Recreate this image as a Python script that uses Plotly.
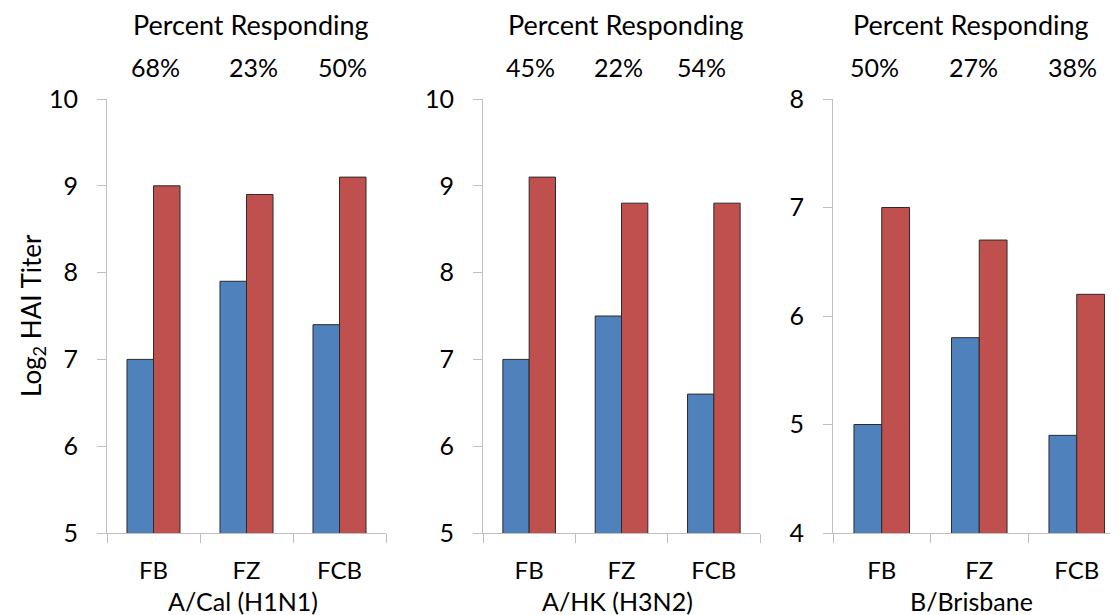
import plotly.graph_objects as go

# ---------------- data ----------------
categories = ["FB", "FZ", "FCB"]
strains = ["A/Cal (H1N1)", "A/HK (H3N2)", "B/Brisbane"]
baseline_values = [
    [7.0, 7.9, 7.4],
    [7.0, 7.5, 6.6],
    [5.0, 5.8, 4.9],
]
post_values = [
    [9.0, 8.9, 9.1],
    [9.1, 8.8, 8.8],
    [7.0, 6.7, 6.2],
]
percent_responding = [
    ["68%", "23%", "50%"],
    ["45%", "22%", "54%"],
    ["50%", "27%", "38%"],
]
y_ranges = [[5, 10], [5, 10], [4, 8]]
y_axis_title = "Log<sub>2</sub> HAI Titer"
top_title = "Percent Responding"

# ---------------- styling / layout ----------------
# the page body has an 8px default margin, so the figure is drawn 8px smaller
OFF = 8
SCREEN_W, SCREEN_H = 1118, 615
W, H = SCREEN_W - OFF, SCREEN_H - OFF
PLOT_L, PLOT_R, PLOT_T, PLOT_B = 107, 1118, 99, 533   # screen pixels
ML, MR = PLOT_L - OFF, SCREEN_W - PLOT_R
MT, MB = PLOT_T - OFF, SCREEN_H - PLOT_B
PW = PLOT_R - PLOT_L
PH = PLOT_B - PLOT_T
FONT = "Lato, 'Liberation Sans', Arial, sans-serif"
BLUE = "#4F81BD"
RED = "#C0504D"
AXIS_GRAY = "#BFBFBF"

panel_px = [(107, 386), (483, 760), (833, 1118)]
x_ranges = [[-0.5, 2.5], [-0.5, 2.5], [-0.5, 2.423]]
percent_shift = [[2, 7, 3], [1, -3, -12], [-7, -6, -4]]
title_shift = [4, 4, -8]


def px_x(p):
    return (p - PLOT_L) / PW


def px_y(p):
    return (PLOT_B - p) / PH


fig = go.Figure()
annotations = []
layout = {}

for i in range(3):
    xa = "x" if i == 0 else f"x{i+1}"
    ya = "y" if i == 0 else f"y{i+1}"
    xkey = "xaxis" if i == 0 else f"xaxis{i+1}"
    ykey = "yaxis" if i == 0 else f"yaxis{i+1}"

    fig.add_trace(go.Bar(
        x=categories, y=baseline_values[i], xaxis=xa, yaxis=ya,
        marker=dict(color=BLUE, line=dict(color="#2b2b2b", width=1)),
        showlegend=False, hoverinfo="x+y",
    ))
    fig.add_trace(go.Bar(
        x=categories, y=post_values[i], xaxis=xa, yaxis=ya,
        marker=dict(color=RED, line=dict(color="#2b2b2b", width=1)),
        showlegend=False, hoverinfo="x+y",
    ))

    a, b = panel_px[i]
    layout[xkey] = dict(
        domain=[px_x(a), px_x(b)], range=x_ranges[i], type="category",
        anchor=ya, showline=True, linecolor=AXIS_GRAY, linewidth=1,
        ticks="outside", tickson="boundaries", ticklen=9, tickcolor=AXIS_GRAY,
        tickfont=dict(family=FONT, size=24, color="black"),
        ticklabelstandoff=16, showgrid=False, zeroline=False, fixedrange=True,
    )
    layout[ykey] = dict(
        domain=[0, 1], range=y_ranges[i], anchor=xa, dtick=1,
        showline=True, linecolor=AXIS_GRAY, linewidth=1,
        ticks="outside", ticklen=9, tickcolor=AXIS_GRAY,
        tickfont=dict(family=FONT, size=25, color="black"),
        ticklabelstandoff=14, showgrid=False, zeroline=False, fixedrange=True,
    )

    # strain title under the axis
    annotations.append(dict(
        text=strains[i], xref="paper", yref="paper",
        x=px_x((a + b) / 2 - 4), y=px_y(601), xanchor="center", yanchor="middle",
        showarrow=False, font=dict(family=FONT, size=25, color="black"),
    ))
    # "Percent Responding" header
    annotations.append(dict(
        text=top_title, xref=xa, yref="paper",
        x=categories[1], xshift=title_shift[i], y=px_y(24),
        xanchor="center", yanchor="middle", showarrow=False,
        font=dict(family=FONT, size=27, color="black"),
    ))
    # percentages over each category
    for j, cat in enumerate(categories):
        annotations.append(dict(
            text=percent_responding[i][j], xref=xa, yref="paper",
            x=cat, xshift=percent_shift[i][j], y=px_y(67),
            xanchor="center", yanchor="middle", showarrow=False,
            font=dict(family=FONT, size=25, color="black"),
        ))

annotations.append(dict(
    text=y_axis_title, xref="paper", yref="paper",
    x=px_x(32), y=px_y(316), xanchor="center", yanchor="middle",
    textangle=-90, showarrow=False,
    font=dict(family=FONT, size=26, color="black"),
))

fig.update_layout(
    width=W, height=H,
    margin=dict(l=ML, r=MR, t=MT, b=MB, pad=0),
    paper_bgcolor="white", plot_bgcolor="white",
    barmode="group", bargap=0.43, bargroupgap=0,
    annotations=annotations,
    font=dict(family=FONT, color="black"),
    **layout,
)

fig.write_html("out.html")
